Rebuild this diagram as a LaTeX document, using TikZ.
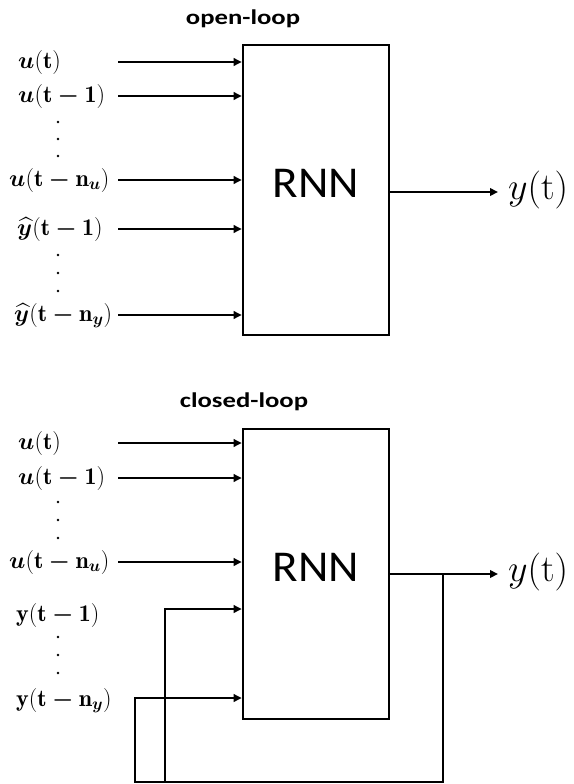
\RequirePackage{fix-cm}
\documentclass[tikz,border=0pt]{standalone}
\usepackage{amsmath,bm}
\usepackage{fontspec}
\newfontfamily\carlito{Carlito}
\usetikzlibrary{arrows.meta}
\begin{document}
\begin{tikzpicture}[x=1pt,y=-1pt,
  wire/.style={line width=2.6pt,line join=miter},
  arr/.style={wire,-{Triangle[length=8pt,width=7.5pt]}},
  lbl/.style={anchor=base west,inner sep=0pt,font=\fontsize{24}{24}\selectfont},
  box/.style={draw,line width=2.6pt,minimum width=146pt,minimum height=290pt,inner sep=0pt},
  ttl/.style={anchor=base,xscale=1.27,font=\carlito\bfseries\fontsize{21}{21}\selectfont,inner sep=0pt},
  rnn/.style={xscale=1.07,font=\carlito\fontsize{44}{44}\selectfont,inner sep=0pt},
  outl/.style={anchor=west,inner sep=0pt,font=\fontsize{38}{38}\selectfont},
  dot/.style={circle,fill,inner sep=0pt,minimum size=2.6pt}
  ]
\useasboundingbox (0,0) rectangle (573,784);
% ---------- open loop ----------
\node[ttl] (t1) at (243,25) {open-loop};
\node[box] (A) at (316,190) {};
\node[rnn] (rA) at (316,183) {RNN};
\node[lbl] (a1) at (18,68) {$\bm{u}(\mathbf{t})$};
\node[lbl] (a2) at (18,102) {$\bm{u}(\mathbf{t}\bm{-}\mathbf{1})$};
\node[lbl] (a3) at (9,186) {$\bm{u}(\mathbf{t}\bm{-}\mathbf{n}_{\bm{u}})$};
\node[lbl] (a4) at (17,235) {$\widehat{\bm{y}}(\mathbf{t}\bm{-}\mathbf{1})$};
\node[lbl] (a5) at (14,321) {$\widehat{\bm{y}}(\mathbf{t}\bm{-}\mathbf{n}_{\bm{y}})$};
\foreach \i/\yy in {1/122,2/139,3/156,4/255,5/273,6/291}
  \node[dot] (da\i) at (58,\yy) {};
\foreach \i/\yy in {1/62,2/96,3/180,4/229,5/315}{
  \coordinate (sa\i) at (118,\yy);
  \draw[arr] (sa\i) -- (sa\i -| A.west);
}
\coordinate (oa) at (498,192);
\draw[arr] (A.east |- oa) -- (oa);
\node[outl] (ya) at (508,190) {$y(\mathrm{t})$};
% ---------- closed loop ----------
\node[ttl] (t2) at (244,407) {closed-loop};
\node[box] (B) at (316,574) {};
\node[rnn] (rB) at (316,567) {RNN};
\node[lbl] (b1) at (18,449) {$\bm{u}(\mathbf{t})$};
\node[lbl] (b2) at (18,484) {$\bm{u}(\mathbf{t}\bm{-}\mathbf{1})$};
\node[lbl] (b3) at (9,568) {$\bm{u}(\mathbf{t}\bm{-}\mathbf{n}_{\bm{u}})$};
\node[lbl] (b4) at (16,621) {$\mathbf{y}(\mathbf{t}\bm{-}\mathbf{1})$};
\node[lbl] (b5) at (16,706) {$\mathbf{y}(\mathbf{t}\bm{-}\mathbf{n}_{\bm{y}})$};
\foreach \i/\yy in {1/502,2/520,3/538,4/637,5/655,6/673}
  \node[dot] (db\i) at (58,\yy) {};
\foreach \i/\yy in {1/443,2/478,3/562}{
  \coordinate (sb\i) at (118,\yy);
  \draw[arr] (sb\i) -- (sb\i -| B.west);
}
\coordinate (ob) at (498,574);
\draw[arr] (B.east) -- (ob);
\node[outl] (yb) at (508,572) {$y(\mathrm{t})$};
\coordinate (fb) at (443,574);
\coordinate (c1) at (443,782);
\coordinate (c2) at (135,782);
\coordinate (c3) at (135,698);
\coordinate (c4) at (165,782);
\coordinate (c5) at (165,609);
\draw[arr] (fb) -- (c1) -- (c2) -- (c3) -- (c3 -| B.west);
\draw[arr] (c4) -- (c5) -- (c5 -| B.west);
\end{tikzpicture}
\end{document}
